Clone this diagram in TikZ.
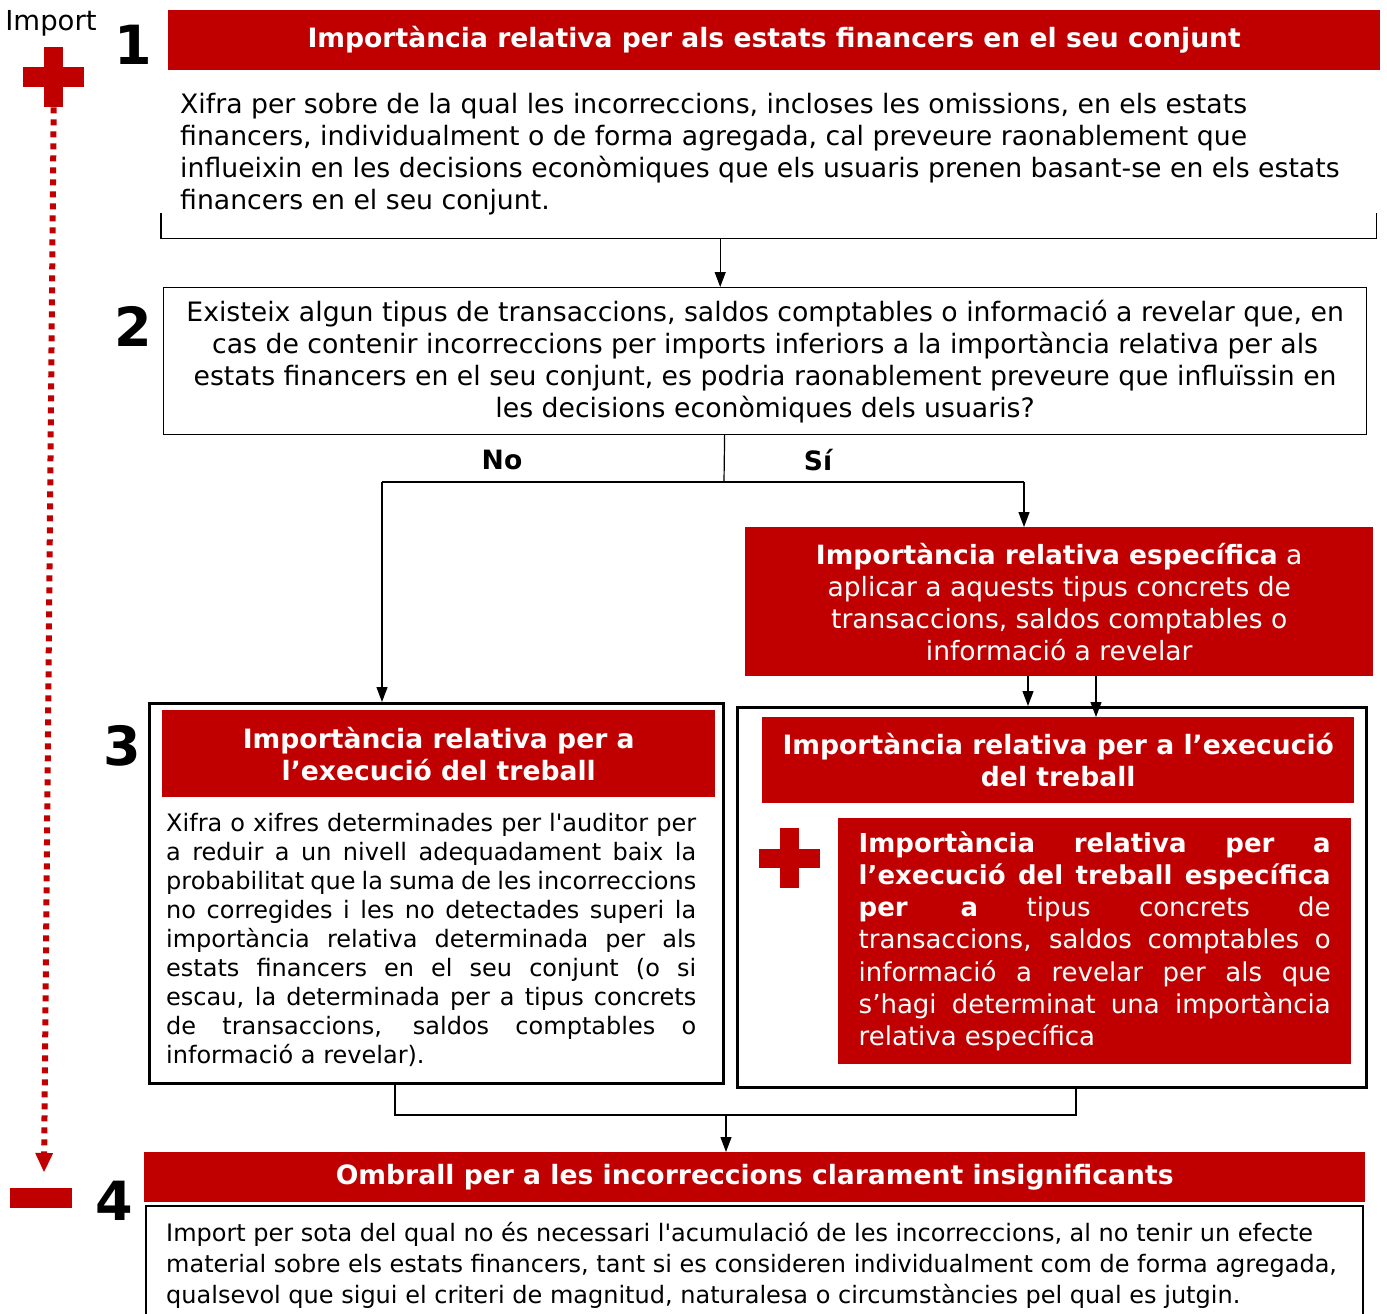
\documentclass[tikz,border=0pt]{standalone}
\usepackage{fontspec}
\setmainfont{DejaVu Sans}
\usetikzlibrary{arrows.meta}
\definecolor{rd}{RGB}{192,0,0}
\newcommand\jl[2]{\makebox[#1][s]{#2}}
\begin{document}
\begin{tikzpicture}[x=1pt,y=-1pt,
  redfill/.style={fill=rd,draw=none,inner sep=0pt,anchor=north west},
  rtitle/.style={redfill,text=white,font=\fontsize{26.6}{32}\bfseries\selectfont,align=center},
  frame/.style={draw=black,line width=1.2pt,inner sep=0pt,anchor=north west},
  boldframe/.style={draw=black,line width=3pt,inner sep=0pt,anchor=north west},
  arr/.style={-{Triangle[length=15pt,width=11pt]},line width=1.2pt},
  conn/.style={line width=1.2pt},
  num/.style={font=\fontsize{54}{54}\bfseries\selectfont},
  body/.style={font=\fontsize{26.7}{32}\selectfont},
  small/.style={font=\fontsize{24}{29}\selectfont},
]
\useasboundingbox (0,0) rectangle (1387,1314);

% left scale
\node[font=\fontsize{27.5}{30}\selectfont,anchor=base] (imp) at (51,31) {Import};
\node[redfill,minimum width=19pt,minimum height=60pt] (plusv) at (44,47) {};
\node[redfill,minimum width=61pt,minimum height=20pt] (plush) at (23,67) {};
\node[redfill,minimum width=62pt,minimum height=20pt] (minus) at (10,1188) {};
\coordinate (dotend) at (44,1172);
\draw[rd,line width=6pt,dash pattern=on 6pt off 6pt,
  -{Triangle[length=19pt,width=18pt,line width=0pt]}] (plusv.south) -- (dotend);

% numbers
\node[num] (n1) at (133,45) {1};
\node[num] (n2) at (133,326) {2};
\node[num] (n3) at (122,746) {3};
\node[num] (n4) at (114,1201) {4};

% box 1
\node[rtitle,minimum width=1212pt,minimum height=60pt] (t1) at (168,10)
  {Importància relativa per als estats financers en el seu conjunt};
\node[inner sep=0pt,anchor=north west,minimum width=1215pt,minimum height=158pt] (d1) at (161,80) {};
\node[body,align=left,anchor=base west,inner sep=0pt] (d1t) at (180,209)
  {Xifra per sobre de la qual les incorreccions, incloses les omissions, en els estats\\
   financers, individualment o de forma agregada, cal preveure raonablement que\\
   influeixin en les decisions econòmiques que els usuaris prenen basant-se en els estats\\
   financers en el seu conjunt.};
\draw[conn] ([yshift=25pt]d1.south west) -- (d1.south west) -- (d1.south east) -- ([yshift=25pt]d1.south east);

% box 2
\node[frame,body,align=center,minimum width=1203pt,minimum height=147pt] (b2) at (163,287)
  {Existeix algun tipus de transaccions, saldos comptables o informació a revelar que, en\\
   cas de contenir incorreccions per imports inferiors a la importància relativa per als\\
   estats financers en el seu conjunt, es podria raonablement preveure que influïssin en\\
   les decisions econòmiques dels usuaris?};
\coordinate (a1) at ([xshift=-48.5pt]d1.south);
\draw[arr] (a1) -- (a1 |- b2.north);

% split
\coordinate (s0) at ([xshift=-40.5pt]b2.south);
\coordinate (jn) at (724,482);
\coordinate (jl) at (382,482);
\coordinate (jr) at (1024,482);
\draw[conn] (s0) -- (jn);
\draw[conn] (jl) -- (jr);
\node[font=\fontsize{26.6}{30}\bfseries\selectfont] (no) at (502,460) {No};
\node[font=\fontsize{26.6}{30}\bfseries\selectfont] (si) at (818,460) {Sí};

% specific materiality
\node[redfill,text=white,font=\fontsize{26.5}{32}\selectfont,align=center,minimum width=628pt,minimum height=149pt] (sp) at (745,527)
  {\textbf{Importància relativa específica} a\\
   aplicar a aquests tipus concrets de\\
   transaccions, saldos comptables o\\
   informació a revelar};
\draw[arr] (jr) -- (jr |- sp.north);

% box 3 left
\node[boldframe,minimum width=574pt,minimum height=380pt] (b3l) at (148,702) {};
\node[rtitle,minimum width=553pt,minimum height=87pt] (t3l) at (162,710)
  {Importància relativa per a\\ l’execució del treball};
\node[small,align=left,anchor=base west,inner sep=0pt] (d3l) at (166,1063)
  {\jl{530pt}{Xifra o xifres determinades per l\textquotesingle auditor per}\\
   \jl{530pt}{a reduir a un nivell adequadament baix la}\\
   \jl{530pt}{probabilitat que la suma de les incorreccions}\\
   \jl{530pt}{no corregides i les no detectades superi la}\\
   \jl{530pt}{importància relativa determinada per als}\\
   \jl{530pt}{estats financers en el seu conjunt (o si}\\
   \jl{530pt}{escau, la determinada per a tipus concrets}\\
   \jl{530pt}{de transaccions, saldos comptables o}\\
   informació a revelar).};
\draw[arr] (jl) -- (jl |- b3l.north);

% box 3 right
\node[boldframe,minimum width=629pt,minimum height=380pt] (b3r) at (736,706) {};
\node[rtitle,minimum width=592pt,minimum height=86pt] (t3r) at (762,717)
  {Importància relativa per a l’execució\\ del treball};
\coordinate (a2) at (1028,676);
\coordinate (a3) at (1096,676);
\draw[arr] (a2) -- (a2 |- b3r.north);
\draw[arr] (a3) -- (a3 |- t3r.north);
\node[redfill,minimum width=19pt,minimum height=60pt] (pv2) at (780,828) {};
\node[redfill,minimum width=61pt,minimum height=19pt] (ph2) at (759,849) {};
\node[redfill,text=white,font=\fontsize{26}{32.3}\selectfont,align=left,minimum width=513pt,minimum height=246pt] (in3) at (838,818)
  {\jl{472pt}{\textbf{Importància relativa per a}}\\
   \jl{472pt}{\textbf{l’execució del treball específica}}\\
   \jl{472pt}{\textbf{per a} tipus concrets de}\\
   \jl{472pt}{transaccions, saldos comptables o}\\
   \jl{472pt}{informació a revelar per als que}\\
   \jl{472pt}{s’hagi determinat una importància}\\
   relativa específica};

% merge
\coordinate (m1) at (395,1115);
\coordinate (m2) at (1076,1115);
\coordinate (m0) at (726,1115);
\draw[conn] (m1 |- b3l.south) -- (m1) -- (m2) -- (m2 |- b3r.south);

% box 4
\node[rtitle,minimum width=1221pt,minimum height=50pt] (t4) at (144,1152)
  {Ombrall per a les incorreccions clarament insignificants};
\draw[arr] (m0) -- (m0 |- t4.north);
\coordinate (b4l) at (146,1206);
\coordinate (b4r) at (1363,1206);
\draw[conn] (146,1320) -- (b4l) -- (b4r) -- (1363,1320);
\node[font=\fontsize{24}{31}\selectfont,align=left,anchor=base west,inner sep=0pt] (d4) at (166,1303)
  {Import per sota del qual no és necessari l\textquotesingle acumulació de les incorreccions, al no tenir un efecte\\
   material sobre els estats financers, tant si es consideren individualment com de forma agregada,\\
   qualsevol que sigui el criteri de magnitud, naturalesa o circumstàncies pel qual es jutgin.};
\end{tikzpicture}
\end{document}
